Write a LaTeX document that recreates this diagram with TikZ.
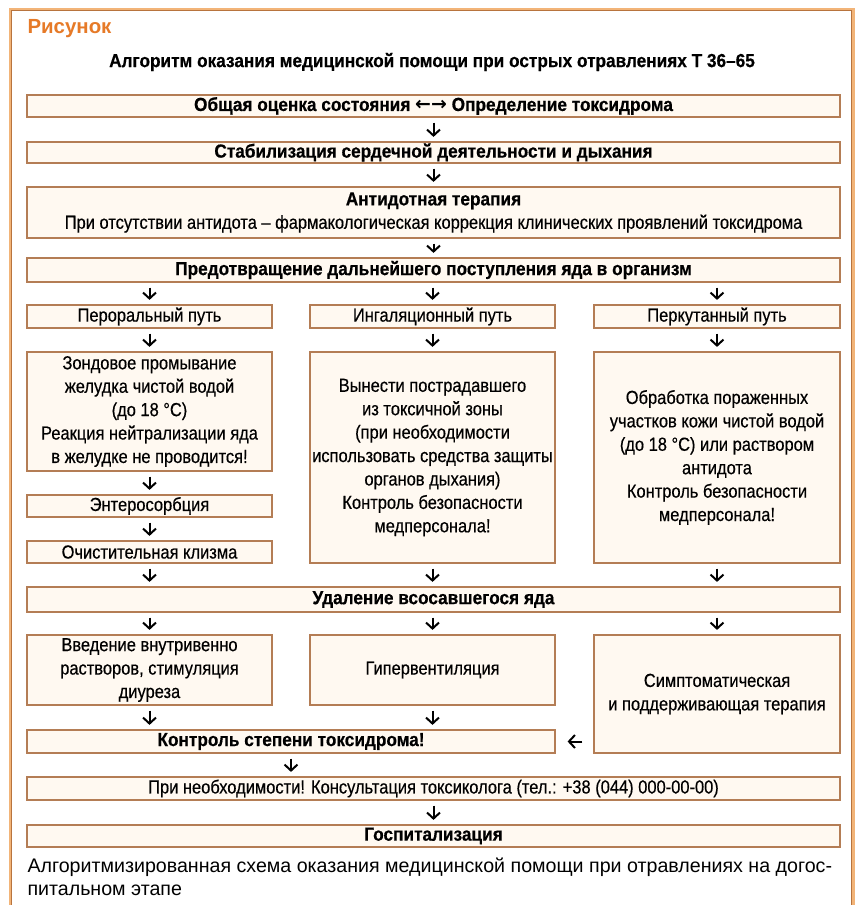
\documentclass[tikz,border=0pt]{standalone}
\usepackage{fontspec}
\setmainfont{Liberation Sans}
\newfontfamily\cnd[FakeStretch=0.87, FakeBold=0.4, BoldFeatures={FakeStretch=0.91, FakeBold=0.5}]{Liberation Sans}
\newfontfamily\arrfont{DejaVu Sans}
\usetikzlibrary{arrows.meta}
\definecolor{frameor}{HTML}{F2B478}
\definecolor{framebr}{HTML}{B8743E}
\definecolor{boxbr}{HTML}{B47D55}
\definecolor{boxfill}{HTML}{FFF9F1}
\definecolor{figor}{HTML}{E67A28}
\begin{document}
\begin{tikzpicture}[x=1bp,y=-1bp,
  box/.style={draw=boxbr, line width=1.2bp, fill=boxfill, inner sep=0pt, align=center,
    font=\cnd\fontsize{19}{23.5}\selectfont},
  bbox/.style={box, font=\cnd\bfseries\fontsize{19}{23.5}\selectfont},
  full/.style={minimum width=813bp},
  col/.style={minimum width=245bp},
  arr/.style={-{Straight Barb[length=6bp,width=13bp]}, line width=2bp, shorten <=5bp, shorten >=4.5bp},
]
\useasboundingbox (0,0) rectangle (857,905);
\fill[white] (0,0) rectangle (857,905);
% frame
\draw[frameor, line width=3bp] (10,915) -- (10,9) -- (853,9) -- (853,915);
\draw[framebr, line width=0.8bp] (11.5,915) -- (11.5,10.5) -- (851.5,10.5) -- (851.5,915);

\node[anchor=west, text=figor, font=\bfseries\fontsize{20.5}{22}\selectfont] (fig) at (24,29) {Рисунок};
\node[font=\cnd\bfseries\fontsize{19}{20}\selectfont] (title) at (432,62) {Алгоритм оказания медицинской помощи при острых отравлениях Т 36–65};

\node[bbox, full, minimum height=22bp] (b1) at (433.5,106) {Общая оценка состояния {\arrfont\bfseries ←→} Определение токсидрома};
\node[bbox, full, minimum height=21bp] (b2) at (433.5,152.5) {Стабилизация сердечной деятельности и дыхания};
\node[box, full, minimum height=51bp] (b3) at (433.5,212.5) {\bfseries Антидотная терапия\\При отсутствии антидота – фармакологическая коррекция клинических проявлений токсидрома};
\node[bbox, full, minimum height=24bp] (b4) at (433.5,270) {Предотвращение дальнейшего поступления яда в организм};

\node[box, col, minimum height=23bp] (pl) at (149.5,316.5) {Пероральный путь};
\node[box, col, minimum height=23bp] (pm) at (432.5,316.5) {Ингаляционный путь};
\node[box, minimum width=246bp, minimum height=23bp] (pr) at (717,316.5) {Перкутанный путь};

\node[box, col, minimum height=119bp] (tl) at (149.5,411.5) {Зондовое промывание\\желудка чистой водой\\(до 18 °C)\\Реакция нейтрализации яда\\в желудке не проводится!};
\node[box, col, minimum height=211bp] (tm) at (432.5,457.5) {Вынести пострадавшего\\из токсичной зоны\\(при необходимости\\использовать средства защиты\\органов дыхания)\\Контроль безопасности\\медперсонала!};
\node[box, minimum width=246bp, minimum height=211bp] (tr) at (717,457.5) {Обработка пораженных\\участков кожи чистой водой\\(до 18 °C) или раствором\\антидота\\Контроль безопасности\\медперсонала!};

\node[box, col, minimum height=22bp] (en) at (149.5,506) {Энтеросорбция};
\node[box, col, minimum height=22bp] (kl) at (149.5,552) {Очистительная клизма};

\node[bbox, full, minimum height=25bp] (ud) at (433.5,599.5) {Удаление всосавшегося яда};

\node[box, col, minimum height=70bp] (vl) at (149.5,670) {Введение внутривенно\\растворов, стимуляция\\диуреза};
\node[box, col, minimum height=70bp] (vm) at (432.5,670) {Гипервентиляция};
\node[box, minimum width=246bp, minimum height=118bp] (vr) at (717,694) {Симптоматическая\\и поддерживающая терапия};

\node[bbox, minimum width=528bp, minimum height=23bp] (kt) at (291,741.5) {Контроль степени токсидрома!};
\node[box, full, minimum height=23bp] (pri) at (433.5,788.5) {При необходимости! Консультация токсиколога (тел.: +38 (044) 000-00-00)};
\node[bbox, full, minimum height=22bp] (gs) at (433.5,836) {Госпитализация};

\node[anchor=west, align=left, font=\fontsize{19.7}{23}\selectfont] (cap) at (24,876.5) {Алгоритмизированная схема оказания медицинской помощи при отравлениях на догос-\\питальном этапе};

% connectors
\draw[arr] (b1) -- (b2);
\draw[arr] (b2) -- (b3);
\draw[arr] (b3) -- (b4);
\draw[arr] (b4.south -| pl.north) -- (pl.north);
\draw[arr] (b4.south -| pm.north) -- (pm.north);
\draw[arr] (b4.south -| pr.north) -- (pr.north);
\draw[arr] (pl) -- (tl);
\draw[arr] (pm) -- (tm);
\draw[arr] (pr) -- (tr);
\draw[arr] (tl) -- (en);
\draw[arr] (en) -- (kl);
\draw[arr] (kl.south) -- (kl.south |- ud.north);
\draw[arr] (tm.south) -- (tm.south |- ud.north);
\draw[arr] (tr.south) -- (tr.south |- ud.north);
\draw[arr] (ud.south -| vl.north) -- (vl.north);
\draw[arr] (ud.south -| vm.north) -- (vm.north);
\draw[arr] (ud.south -| vr.north) -- (vr.north);
\draw[arr] (vl.south) -- (vl.south |- kt.north);
\draw[arr] (vm.south) -- (vm.south |- kt.north);
\draw[arr, shorten <=11bp, shorten >=12bp] (kt.east -| vr.west) -- (kt.east);
\draw[arr] (kt.south) -- (kt.south |- pri.north);
\draw[arr] (pri) -- (gs);
\end{tikzpicture}
\end{document}
